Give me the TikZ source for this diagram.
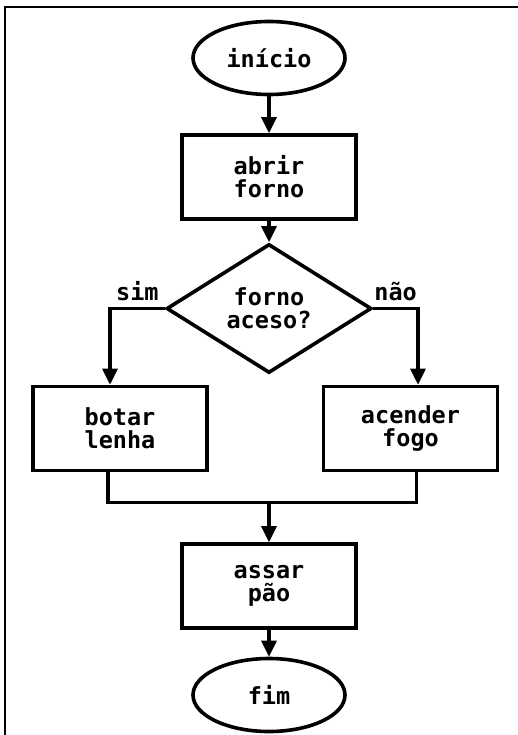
\documentclass[tikz,border=0pt]{standalone}
\usepackage{fontspec}
\setmonofont{DejaVu Sans Mono}
\usetikzlibrary{shapes.geometric, arrows.meta, positioning}

\tikzset{
  terminal/.style={ellipse, draw, line width=3.6pt, minimum width=152pt, minimum height=73pt, inner sep=0pt},
  process/.style={rectangle, draw, line width=3.6pt, minimum width=174pt, minimum height=84pt, inner sep=0pt, align=center},
  decision/.style={diamond, draw, line width=3.6pt, minimum width=205pt, minimum height=129pt, inner sep=0pt, align=center},
  rotulo/.style={inner sep=6pt}
}

\begin{document}
\begin{tikzpicture}[->, >={Triangle[length=16pt,width=15pt]}, line width=3.2pt,
    font=\fontsize{23.5pt}{23pt}\selectfont\ttfamily\bfseries]
			\useasboundingbox (0,0) rectangle (518pt,-735pt);
			\draw[-, line width=1.2pt] (5pt,-735pt) -- (5pt,-7pt) -- (518pt,-7pt);

			\node[terminal] (inicio) at (269pt,-58pt) {início};
			\node[process] (abrir) [node distance=119pt, below of=inicio] {abrir\\forno};
			\node[decision] (decisao) [node distance=131.5pt, below of=abrir] {forno\\aceso?};
			\node[process] (botar) [node distance=120pt, below of=decisao, xshift=-149pt] {botar\\lenha};
			\node[process] (acender) [node distance=120pt, below of=decisao, xshift=141.5pt] {acender\\fogo};
			\node[process] (assar) [node distance=277.5pt, below of=decisao] {assar\\pão};
			\node[terminal] (fim) [node distance=109pt, below of=assar] {fim};
			\coordinate (juncao) at ([yshift=40pt]assar.north);

			\path
			(inicio) edge (abrir)
			(abrir) edge (decisao)
			(juncao) edge (assar)
			(assar) edge (fim);

			\draw (decisao.west) -| ([xshift=-10pt]botar.north) node[rotulo, pos=0.25, above] {sim};
			\draw (decisao.east) -| ([xshift=7.5pt]acender.north) node[rotulo, pos=0.25, above] {não};
			\draw[-] ([xshift=-12pt]botar.south) |- (juncao) -| ([xshift=6pt]acender.south);
		\end{tikzpicture}
\end{document}
